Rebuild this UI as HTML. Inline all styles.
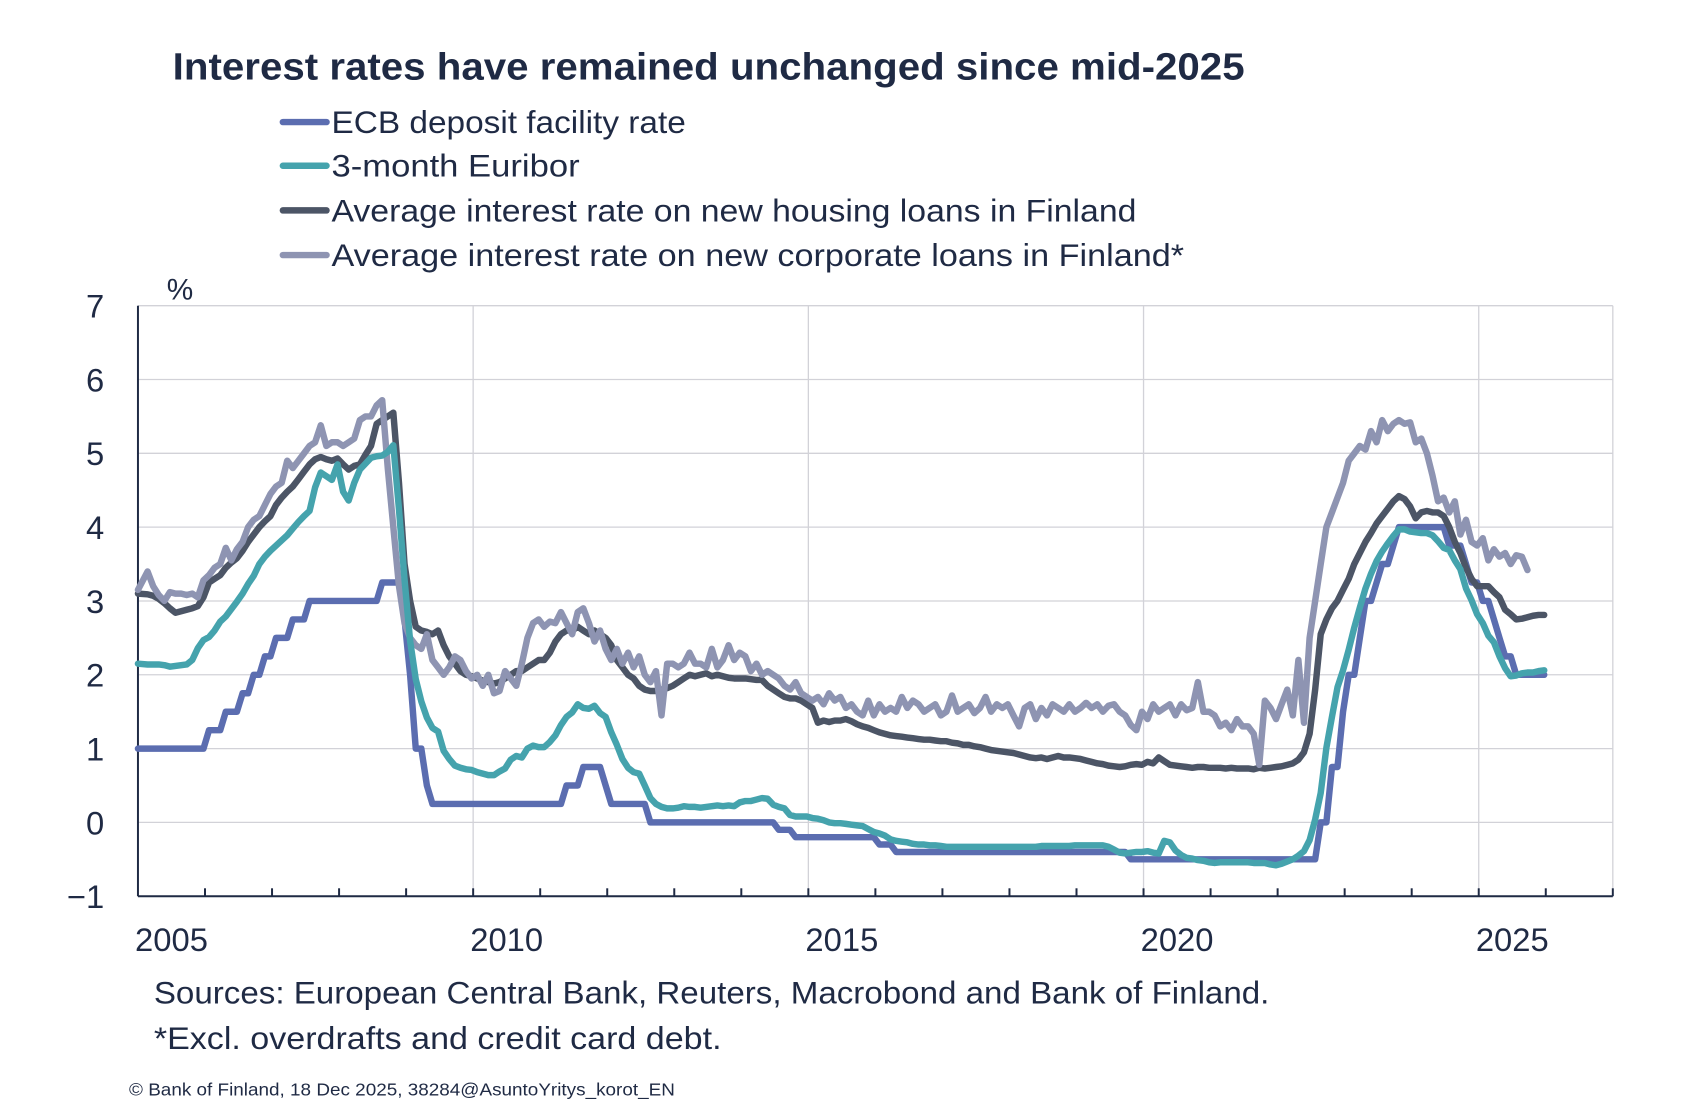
<!DOCTYPE html>
<html><head><meta charset="utf-8"><style>
html,body{margin:0;padding:0;background:#fff;}
svg{display:block;}
text{font-family:"Liberation Sans",sans-serif;fill:#1f2a44;}
</style></head><body>
<svg id="c" width="1689" height="1104" viewBox="0 0 1689 1104" xmlns="http://www.w3.org/2000/svg">
<g transform="scale(0.9925)">
<text x="174" y="80" font-size="38" font-weight="bold" textLength="1080" lengthAdjust="spacingAndGlyphs">Interest rates have remained unchanged since mid-2025</text>
<g stroke-width="6.5" stroke-linecap="round">
<line x1="285" y1="123" x2="329" y2="123" stroke="#5b6db0"/>
<line x1="285" y1="167" x2="329" y2="167" stroke="#45a3ad"/>
<line x1="285" y1="212" x2="329" y2="212" stroke="#4c5566"/>
<line x1="285" y1="257" x2="329" y2="257" stroke="#8e94b2"/>
</g>
<g font-size="32">
<text x="334" y="134" textLength="357" lengthAdjust="spacingAndGlyphs">ECB deposit facility rate</text>
<text x="334" y="178" textLength="250" lengthAdjust="spacingAndGlyphs">3-month Euribor</text>
<text x="334" y="223" textLength="811" lengthAdjust="spacingAndGlyphs">Average interest rate on new housing loans in Finland</text>
<text x="334" y="268" textLength="859" lengthAdjust="spacingAndGlyphs">Average interest rate on new corporate loans in Finland*</text>
</g>
<g id="grid"></g>
<g id="series" fill="none" stroke-width="6.5" stroke-linejoin="round" stroke-linecap="round"></g>
<text x="168" y="302" font-size="30">%</text>
<g font-size="32">
<text x="155" y="1011" textLength="1124" lengthAdjust="spacingAndGlyphs">Sources: European Central Bank, Reuters, Macrobond and Bank of Finland.</text>
<text x="155" y="1057" textLength="572" lengthAdjust="spacingAndGlyphs">*Excl. overdrafts and credit card debt.</text>
</g>
<text x="130" y="1104" font-size="18" textLength="550" lengthAdjust="spacingAndGlyphs">© Bank of Finland, 18 Dec 2025, 38284@AsuntoYritys_korot_EN</text>
</g>
</svg>
<script>
var NS="http://www.w3.org/2000/svg";
var L=139,R=1625,T=308,B=903;
function X(y){return L+(y-2005)*(R-L)/22;}
function Y(v){return T+(7-v)*(B-T)/8;}
function el(p,tag,a){var e=document.createElementNS(NS,tag);for(var k in a)e.setAttribute(k,a[k]);p.appendChild(e);return e;}
var g=document.getElementById('grid');
for(var v=-1;v<=7;v++){
  if(v>-1) el(g,'line',{x1:L,x2:R,y1:Y(v),y2:Y(v),stroke:'#d2d2d8','stroke-width':1.3});
  var t=el(g,'text',{x:105,y:Y(v)+12,'font-size':33,'text-anchor':'end'});t.textContent=(v<0?'\u2212'+(-v):v);
}
[2010,2015,2020,2025,2027].forEach(function(y){el(g,'line',{x1:X(y),x2:X(y),y1:T,y2:B,stroke:'#d2d2d8','stroke-width':1.3});});
el(g,'line',{x1:L,x2:L,y1:T,y2:B,stroke:'#1f2a44','stroke-width':2});
el(g,'line',{x1:L,x2:R,y1:B,y2:B,stroke:'#1f2a44','stroke-width':2});
for(var y=2006;y<=2027;y++) el(g,'line',{x1:X(y),x2:X(y),y1:B-8,y2:B,stroke:'#1f2a44','stroke-width':2});
[2005,2010,2015,2020,2025].forEach(function(y){var t=el(g,'text',{x:X(y+0.5),y:958,'font-size':33,'text-anchor':'middle'});t.textContent=y;});

var steps=[[2005,1],[2005.92,1.25],[2006.17,1.5],[2006.42,1.75],[2006.58,2],[2006.75,2.25],[2006.92,2.5],[2007.17,2.75],[2007.42,3],[2008.5,3.25],[2008.83,2.75],[2008.92,2.0],[2009.0,1],[2009.17,0.5],[2009.25,0.25],[2011.25,0.5],[2011.5,0.75],[2011.83,0.5],[2011.92,0.25],[2012.5,0],[2014.42,-0.1],[2014.67,-0.2],[2015.92,-0.3],[2016.17,-0.4],[2019.67,-0.5],[2022.5,0],[2022.67,0.75],[2022.83,1.5],[2022.92,2],[2023.08,2.5],[2023.17,3],[2023.33,3.25],[2023.42,3.5],[2023.58,3.75],[2023.67,4],[2024.42,3.75],[2024.67,3.5],[2024.75,3.25],[2024.92,3],[2025.08,2.75],[2025.17,2.5],[2025.25,2.25],[2025.42,2]];
var ecb=[];
for(var m=0;m<=251;m++){var yy=2005+m/12-0.06,val=1;for(var i=0;i<steps.length;i++){if(steps[i][0]<=yy)val=steps[i][1];}ecb.push(val);}
var eur=[2.15,2.14,2.14,2.14,2.13,2.11,2.12,2.13,2.14,2.2,2.36,2.47,
2.51,2.6,2.72,2.79,2.89,2.99,3.1,3.23,3.34,3.5,3.6,3.68,
3.75,3.82,3.89,3.98,4.07,4.15,4.22,4.54,4.74,4.69,4.64,4.85,
4.48,4.36,4.6,4.78,4.86,4.94,4.96,4.97,5.02,5.11,4.24,3.29,
2.46,1.94,1.64,1.42,1.28,1.23,0.97,0.86,0.77,0.74,0.72,0.71,
0.68,0.66,0.64,0.64,0.69,0.73,0.85,0.9,0.88,1,1.04,1.02,
1.02,1.09,1.18,1.32,1.43,1.49,1.6,1.55,1.54,1.58,1.48,1.43,
1.22,1.05,0.86,0.74,0.68,0.66,0.5,0.33,0.25,0.21,0.19,0.19,
0.2,0.22,0.21,0.21,0.2,0.21,0.22,0.23,0.22,0.23,0.22,0.27,
0.29,0.29,0.31,0.33,0.32,0.24,0.21,0.19,0.1,0.08,0.08,0.08,
0.06,0.05,0.03,0,-0.01,-0.01,-0.02,-0.03,-0.04,-0.05,-0.09,-0.13,
-0.15,-0.18,-0.23,-0.25,-0.26,-0.27,-0.29,-0.3,-0.3,-0.31,-0.31,-0.32,
-0.33,-0.33,-0.33,-0.33,-0.33,-0.33,-0.33,-0.33,-0.33,-0.33,-0.33,-0.33,
-0.33,-0.33,-0.33,-0.33,-0.33,-0.32,-0.32,-0.32,-0.32,-0.32,-0.32,-0.31,
-0.31,-0.31,-0.31,-0.31,-0.31,-0.33,-0.37,-0.41,-0.42,-0.41,-0.4,-0.4,
-0.39,-0.41,-0.42,-0.25,-0.27,-0.38,-0.44,-0.48,-0.49,-0.51,-0.52,-0.54,
-0.55,-0.54,-0.54,-0.54,-0.54,-0.54,-0.54,-0.55,-0.55,-0.55,-0.57,-0.58,
-0.56,-0.53,-0.5,-0.45,-0.39,-0.24,0.04,0.4,1.01,1.43,1.83,2.06,
2.34,2.64,2.91,3.17,3.37,3.54,3.67,3.78,3.88,3.97,3.97,3.94,
3.93,3.92,3.92,3.89,3.81,3.72,3.69,3.55,3.43,3.17,3.01,2.82,
2.7,2.53,2.44,2.25,2.09,1.98,1.99,2.02,2.03,2.03,2.05,2.06];
var hou=[3.1,3.09,3.07,3.03,2.97,2.9,2.84,2.86,2.88,2.9,2.93,3.05,
3.25,3.3,3.35,3.45,3.52,3.58,3.68,3.8,3.9,4,4.08,4.15,
4.3,4.4,4.48,4.55,4.65,4.75,4.85,4.92,4.95,4.92,4.9,4.93,
4.85,4.78,4.83,4.85,4.98,5.1,5.4,5.45,5.5,5.55,4.6,3.5,
3,2.65,2.6,2.58,2.55,2.6,2.4,2.25,2.15,2.05,2,1.98,
1.95,1.92,1.9,1.88,1.9,1.95,2,2.05,2.05,2.1,2.15,2.2,
2.2,2.3,2.45,2.55,2.6,2.6,2.65,2.6,2.55,2.6,2.55,2.5,
2.4,2.2,2.1,2,1.95,1.85,1.8,1.78,1.78,1.8,1.82,1.85,
1.9,1.95,2,1.98,2,2.02,1.98,2,1.98,1.96,1.95,1.95,
1.95,1.94,1.93,1.93,1.85,1.8,1.75,1.7,1.68,1.68,1.65,1.6,
1.55,1.35,1.38,1.36,1.38,1.38,1.4,1.37,1.33,1.3,1.28,1.25,
1.22,1.2,1.18,1.17,1.16,1.15,1.14,1.13,1.12,1.12,1.11,1.1,
1.1,1.08,1.07,1.05,1.05,1.03,1.02,1,0.98,0.97,0.96,0.95,
0.94,0.92,0.9,0.88,0.87,0.88,0.86,0.88,0.9,0.88,0.88,0.87,
0.86,0.84,0.82,0.8,0.79,0.77,0.76,0.75,0.76,0.78,0.79,0.78,
0.82,0.8,0.88,0.83,0.78,0.77,0.76,0.75,0.74,0.75,0.75,0.74,
0.74,0.74,0.73,0.74,0.73,0.73,0.73,0.72,0.74,0.73,0.74,0.75,
0.76,0.78,0.8,0.85,0.95,1.2,1.8,2.55,2.75,2.9,3,3.15,
3.3,3.5,3.65,3.8,3.92,4.05,4.15,4.25,4.35,4.42,4.38,4.28,
4.12,4.2,4.22,4.2,4.2,4.15,4,3.8,3.65,3.45,3.3,3.2,
3.2,3.2,3.12,3.05,2.88,2.82,2.75,2.76,2.78,2.8,2.81,2.81];
var cor=[3.15,3.4,3.2,3.08,3,3.12,3.1,3.1,3.08,3.1,3.05,3.28,
3.35,3.45,3.5,3.72,3.55,3.7,3.8,4,4.1,4.15,4.3,4.45,
4.55,4.6,4.9,4.8,4.9,5,5.1,5.15,5.38,5.1,5.15,5.15,
5.1,5.15,5.2,5.45,5.5,5.5,5.65,5.72,4.8,4,3.2,2.7,
2.5,2.4,2.35,2.55,2.2,2.1,2,2.1,2.25,2.2,2.05,1.95,
2,1.85,2,1.75,1.78,2.05,1.95,1.85,2.15,2.5,2.7,2.75,
2.65,2.72,2.7,2.85,2.7,2.55,2.85,2.9,2.7,2.45,2.6,2.35,
2.2,2.35,2.15,2.3,2.1,2.25,2,1.9,2.05,1.45,2.15,2.15,
2.1,2.15,2.3,2.15,2.15,2.1,2.35,2.1,2.2,2.4,2.2,2.3,
2.25,2.05,2.15,2,2.05,2,1.95,1.85,1.8,1.9,1.75,1.7,
1.65,1.7,1.6,1.75,1.65,1.7,1.55,1.6,1.5,1.45,1.65,1.45,
1.6,1.5,1.55,1.5,1.7,1.55,1.65,1.6,1.5,1.55,1.6,1.45,
1.5,1.72,1.5,1.55,1.6,1.48,1.55,1.7,1.5,1.6,1.55,1.6,
1.45,1.3,1.55,1.6,1.4,1.55,1.45,1.6,1.55,1.5,1.6,1.5,
1.55,1.62,1.55,1.6,1.5,1.58,1.6,1.5,1.45,1.32,1.25,1.5,
1.4,1.6,1.5,1.55,1.6,1.45,1.6,1.52,1.55,1.9,1.5,1.5,
1.45,1.3,1.35,1.25,1.4,1.3,1.3,1.2,0.78,1.65,1.55,1.4,
1.6,1.8,1.45,2.2,1.35,2.5,3,3.5,4,4.2,4.4,4.6,
4.9,5,5.1,5.05,5.3,5.15,5.45,5.3,5.4,5.45,5.4,5.42,
5.15,5.2,5,4.7,4.35,4.4,4.2,4.35,3.9,4.1,3.8,3.75,
3.85,3.55,3.7,3.6,3.65,3.5,3.62,3.6,3.42];
var s=document.getElementById('series');
function draw(d,c){var p=d.map(function(v,i){return X(2005+i/12+(i?0.06:0)).toFixed(1)+','+Y(v).toFixed(1);}).join(' ');el(s,'polyline',{points:p,stroke:c});}
draw(ecb,'#5b6db0');draw(hou,'#4c5566');draw(cor,'#8e94b2');draw(eur,'#45a3ad');
</script>
</body></html>
